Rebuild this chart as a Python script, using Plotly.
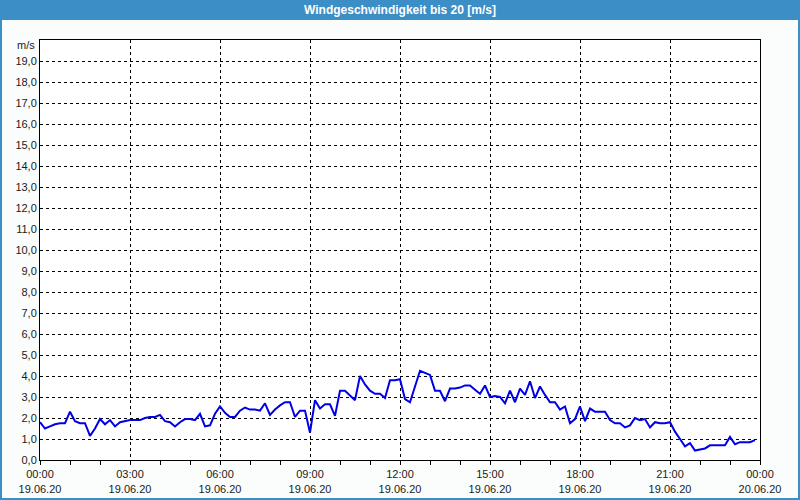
import plotly.graph_objects as go
import pandas as pd

title_text = "Windgeschwindigkeit bis 20 [m/s]"
unit_label = "m/s"

wind_speed = [
    1.8, 1.5, 1.6, 1.7, 1.75, 1.75, 2.3, 1.85, 1.75, 1.75, 1.15, 1.5,
    1.95, 1.7, 1.9, 1.6, 1.8, 1.85, 1.9, 1.9, 1.9, 2.0, 2.05, 2.05,
    2.15, 1.85, 1.8, 1.6, 1.8, 1.95, 1.95, 1.9, 2.2, 1.6, 1.65, 2.2,
    2.55, 2.25, 2.05, 2.05, 2.35, 2.5, 2.4, 2.4, 2.35, 2.7, 2.15, 2.4,
    2.6, 2.75, 2.75, 2.05, 2.35, 2.35, 1.3, 2.85, 2.45, 2.65, 2.65, 2.1,
    3.3, 3.3, 3.05, 2.85, 4.0, 3.6, 3.3, 3.15, 3.15, 2.95, 3.8, 3.8,
    3.85, 2.9, 2.75, 3.5, 4.25, 4.15, 4.05, 3.3, 3.3, 2.8, 3.4, 3.4,
    3.45, 3.55, 3.55, 3.35, 3.15, 3.55, 3.0, 3.05, 3.0, 2.7, 3.3, 2.75,
    3.4, 3.1, 3.75, 2.95, 3.5, 3.1, 2.75, 2.75, 2.4, 2.55, 1.75, 1.95,
    2.55, 1.85, 2.45, 2.3, 2.3, 2.3, 1.9, 1.75, 1.75, 1.55, 1.65, 2.0,
    1.9, 1.95, 1.55, 1.8, 1.75, 1.75, 1.8, 1.35, 1.0, 0.65, 0.8, 0.45,
    0.5, 0.55, 0.7, 0.7, 0.7, 0.7, 1.1, 0.75, 0.85, 0.85, 0.85, 0.95,
]
times = pd.date_range("2020-06-19 00:00", periods=len(wind_speed), freq="10min")

x_tickvals = ["2020-06-19 00:00", "2020-06-19 03:00", "2020-06-19 06:00",
              "2020-06-19 09:00", "2020-06-19 12:00", "2020-06-19 15:00",
              "2020-06-19 18:00", "2020-06-19 21:00", "2020-06-20 00:00"]
x_ticktext = ["00:00<br>19.06.20", "03:00<br>19.06.20", "06:00<br>19.06.20",
              "09:00<br>19.06.20", "12:00<br>19.06.20", "15:00<br>19.06.20",
              "18:00<br>19.06.20", "21:00<br>19.06.20", "00:00<br>20.06.20"]
y_tickvals = list(range(0, 20))
y_ticktext = ["0,0", "1,0", "2,0", "3,0", "4,0", "5,0", "6,0", "7,0", "8,0", "9,0",
              "10,0", "11,0", "12,0", "13,0", "14,0", "15,0", "16,0", "17,0", "18,0", "19,0"]

BLUE = "#3c8ec6"
FONT = "Liberation Sans"
TXT = "#1a1a1a"

fig = go.Figure()
fig.add_trace(go.Scatter(x=times, y=wind_speed, mode="lines",
                         line=dict(color="#0000e6", width=2), hoverinfo="skip"))

W, H = 800, 500
L, R, T, B = 40, 40, 40, 40
pw, ph = W - L - R, H - T - B
def px(x): return (x - L) / pw
def py(y): return (H - B - y) / ph

fig.update_layout(
    width=W, height=H,
    margin=dict(l=L, r=R, t=T, b=B, autoexpand=False),
    paper_bgcolor="#fbfdfc", plot_bgcolor="#ffffff",
    showlegend=False,
    font=dict(family=FONT, size=11, color=TXT),
    xaxis=dict(
        range=["2020-06-19 00:00", "2020-06-20 00:00"],
        tickvals=x_tickvals, ticktext=x_ticktext,
        showgrid=True, gridcolor="#000000", gridwidth=1, griddash="3px,3px",
        showline=True, linecolor="#000000", linewidth=1, mirror=True,
        ticks="outside", ticklen=4, tickcolor="#000000",
        minor=dict(dtick=3600000, ticks="outside", ticklen=4, tickcolor="#000000", showgrid=False),
        zeroline=False, fixedrange=True, automargin=False,
        tickfont=dict(family=FONT, size=11, color=TXT),
    ),
    yaxis=dict(
        range=[0, 20],
        tickvals=y_tickvals, ticktext=y_ticktext,
        showgrid=True, gridcolor="#000000", gridwidth=1, griddash="3px,3px",
        showline=True, linecolor="#000000", linewidth=1, mirror=True,
        ticks="", zeroline=False, fixedrange=True, automargin=False,
        tickfont=dict(family=FONT, size=11, color=TXT),
    ),
    shapes=[
        dict(type="rect", xref="paper", yref="paper",
             x0=px(0), x1=px(W), y0=py(20), y1=py(0),
             fillcolor=BLUE, line=dict(width=0), layer="above"),
        dict(type="rect", xref="paper", yref="paper",
             x0=px(0), x1=px(W), y0=py(H), y1=py(0),
             fillcolor="rgba(0,0,0,0)", line=dict(color=BLUE, width=4), layer="above"),
    ],
    annotations=[
        dict(text="<b>" + title_text + "</b>", xref="paper", yref="paper",
             x=px(400), y=py(10), showarrow=False, xanchor="center", yanchor="middle",
             font=dict(family=FONT, size=12, color="#ffffff")),
        dict(text=unit_label, xref="paper", yref="paper",
             x=px(37), y=py(45), showarrow=False, xanchor="right", yanchor="middle",
             font=dict(family=FONT, size=11, color=TXT)),
    ],
)

fig.write_html("out.html")
